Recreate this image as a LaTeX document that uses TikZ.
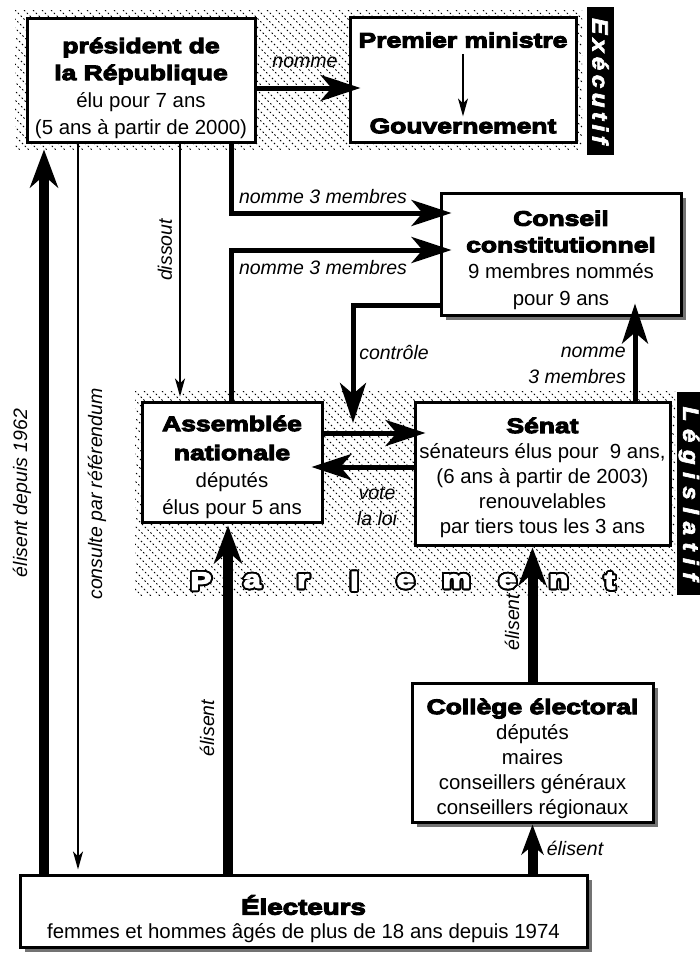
\documentclass[tikz,border=0pt]{standalone}
\usepackage{fontspec}
\setmainfont{Liberation Sans}
\newfontfamily\heavy{Liberation Sans}[UprightFont={* Bold}, FakeStretch=1.26, FakeBold=5]
\newfontfamily\heavyit{Liberation Sans}[UprightFont={* Bold Italic}, FakeStretch=1.1, FakeBold=3]
\usepackage[copies]{contour}
\usetikzlibrary{arrows.meta,shadows}
\newcommand\headf{\heavy\fontsize{21}{27}\selectfont}
\newcommand\bodyf{\normalfont\fontsize{20.4}{27}\selectfont}
\newcommand\bodyg{\normalfont\fontsize{20.4}{25}\selectfont}
\newcommand\labf{\normalfont\itshape\fontsize{19.5}{26}\selectfont}
\contourlength{1.8pt}
\contournumber{32}
\tikzset{
  box/.style={draw, line width=3pt, fill=white, inner sep=0pt},
  txt/.style={inner sep=0pt, align=center, font=\bodyf},
  shad/.style={drop shadow={shadow xshift=5pt, shadow yshift=-5pt, fill=black!55, opacity=1}},
  thickarr/.style={line width=10pt, -{Stealth[length=38pt,width=28pt,inset=12pt]}},
  thickarrs/.style={line width=10pt, -{Stealth[length=30pt,width=22pt,inset=9pt]}},
  medarr/.style={line width=5pt, -{Stealth[length=40pt,width=26pt,inset=11pt]}, shorten >=-12pt},
  thinarr/.style={line width=1.5pt, -{Stealth[length=18pt,width=10pt,inset=5pt]}},
  lab/.style={font=\labf, inner sep=0pt},
  hatch/.style={line width=0.75pt, dash pattern=on 1.6pt off 2.4pt},
  tag/.style={fill=black, text=white, rotate=-90, inner sep=0pt, font=\heavyit\fontsize{22}{22}\selectfont},
  pletter/.style={text=white, inner sep=0pt, font=\heavy\fontsize{25}{25}\selectfont}
}
\begin{document}
\begin{tikzpicture}[x=1pt,y=-1pt]
\useasboundingbox (0,0) rectangle (700,954);
\fill[white] (0,0) rectangle (700,954);
% hatched zones
\begin{scope}
\clip (15,10) rectangle (582,150);
\foreach \i in {-20,...,66} \draw[hatch] (15+\i*9,10) -- ++(160,160);
\end{scope}
\begin{scope}
\clip (135,391) rectangle (675,595);
\foreach \i in {-25,...,62} \draw[hatch] (135+\i*9,391) -- ++(220,220);
\end{scope}
% side tags
\node[tag, minimum width=148pt, minimum height=27pt] (exe) at (600.5,81)
  {E\hspace{4.5pt}x\hspace{4.5pt}é\hspace{4.5pt}c\hspace{4.5pt}u\hspace{4.5pt}t\hspace{4.5pt}i\hspace{4.5pt}f};
\node[tag, minimum width=203pt, minimum height=24pt] (leg) at (689,493.5)
  {L\hspace{7.5pt}é\hspace{7.5pt}g\hspace{7.5pt}i\hspace{7.5pt}s\hspace{7.5pt}l\hspace{7.5pt}a\hspace{7.5pt}t\hspace{7.5pt}i\hspace{7.5pt}f};
% Parlement
\foreach \c [count=\k] in {P,a,r,l,e,m,e,n,t} {
  \pgfmathsetmacro{\xx}{201+(\k-1)*51.1}
  \node[pletter] (pl\k) at (\xx,582) {\contour{black}{\c}};
}
% boxes
\node[box, minimum width=228pt, minimum height=124pt] (pres) at (141,80) {};
\node[txt] (prest) at ([yshift=-8pt]pres.center)
  {\headf président de\\ \headf la République\\ \bodyf élu pour 7 ans\\ \bodyf (5 ans à partir de 2000)};
\node[box, minimum width=226pt, minimum height=125pt] (pm) at (463,79.5) {};
\node[font=\headf, inner sep=0pt] (pm1) at (463,40) {Premier ministre};
\node[font=\headf, inner sep=0pt] (pm2) at (463,126) {Gouvernement};
\node[box, shad, minimum width=240pt, minimum height=122pt] (cc) at (561,254) {};
\node[txt, font=\fontsize{20.4}{26.5}\selectfont] (cct) at ([yshift=-6pt]cc.center)
  {\headf Conseil\\ \headf constitutionnel\\ \bodyf 9 membres nommés\\ \bodyf pour 9 ans};
\node[box, minimum width=180pt, minimum height=120pt] (asm) at (232,462) {};
\node[txt] (asmt) at ([yshift=-5pt]asm.center)
  {\headf Assemblée\\[2pt] \headf nationale\\ \bodyf députés\\ \bodyf élus pour 5 ans};
\node[box, minimum width=255pt, minimum height=143pt] (sen) at (542.5,473.5) {};
\node[txt, font=\bodyg] (sent) at ([yshift=-4pt]sen.center)
  {\headf Sénat\\ \bodyg sénateurs élus pour\ \ 9 ans,\\ \bodyg (6 ans à partir de 2003)\\ \bodyg renouvelables\\ \bodyg par tiers tous les 3 ans};
\node[box, shad, minimum width=241pt, minimum height=139pt] (col) at (532.5,752.5) {};
\node[txt, font=\bodyg] (colt) at ([yshift=-6pt]col.center)
  {\headf Collège électoral\\ \bodyg députés\\ \bodyg maires\\ \bodyg conseillers généraux\\ \bodyg conseillers régionaux};
\node[box, shad, minimum width=567pt, minimum height=72pt] (elec) at (303.5,911) {};
\node[txt, font=\fontsize{20.4}{24}\selectfont] (elect) at ([yshift=-8pt]elec.center)
  {\heavy\fontsize{22}{24}\selectfont Électeurs\\ \normalfont\fontsize{20.4}{24}\selectfont femmes et hommes âgés de plus de 18 ans depuis 1974};
% connectors
\draw[thinarr] ([yshift=-6pt]pm1.south) -- ([yshift=2pt]pm2.north);
\draw[medarr] ([yshift=-8pt]pres.east) -- ([yshift=-8.5pt]pm.west);
\draw[medarr] (pres.south -| 231,0) |- (cc.west |- 0,213);
\draw[medarr] (asm.north -| 231,0) |- (cc.west |- 0,250);
\draw[thinarr] (pres.south -| 180,0) -- ([yshift=4pt]asm.north -| 180,0);
\draw[thinarr] (pres.south -| 78,0) -- ([yshift=4pt]elec.north -| 78,0);
\draw[thickarr] (elec.north -| 44,0) -- ([yshift=-6pt]pres.south -| 44,0);
\draw[thickarr] (elec.north -| 228,0) -- ([yshift=-2pt]asm.south -| 228,0);
\coordinate (ctrlend) at (353,423);
\draw[medarr, shorten >=0pt] (cc.west |- 0,305) -| (ctrlend);
\draw[medarr, shorten >=-13pt] (sen.north -| 635,0) -- (cc.south -| 635,0);
\draw[medarr] (asm.east |- 0,433) -- (sen.west |- 0,433);
\draw[medarr] (sen.west |- 0,467) -- (asm.east |- 0,467);
\draw[thickarr] (col.north) -- ([yshift=-1pt]sen.south -| col.north);
\draw[thickarrs] (elec.north -| col.south) -- ([yshift=-1pt]col.south);
% labels
\node[lab] (lnomme) at (305,62) {nomme};
\node[lab] (lnm1) at (323,197) {nomme 3 membres};
\node[lab] (lnm2) at (323,268) {nomme 3 membres};
\node[lab, rotate=90] (ldiss) at (165,250) {dissout};
\node[lab, rotate=90] (ldep) at (22,493) {élisent depuis 1962};
\node[lab, rotate=90] (lref) at (97,494) {consulte par référendum};
\node[lab, rotate=90] (lel1) at (207,728) {élisent};
\node[lab] (lctrl) at (394,352) {contrôle};
\node[lab, align=right, anchor=east] (lnm3) at (626,365) {nomme\\ 3 membres};
\node[lab, align=center] (lvote) at (377,506) {vote\\ la loi};
\node[lab, rotate=90] (lel2) at (512,622) {élisent};
\node[lab] (lel3) at (575,848) {élisent};
\end{tikzpicture}
\end{document}
